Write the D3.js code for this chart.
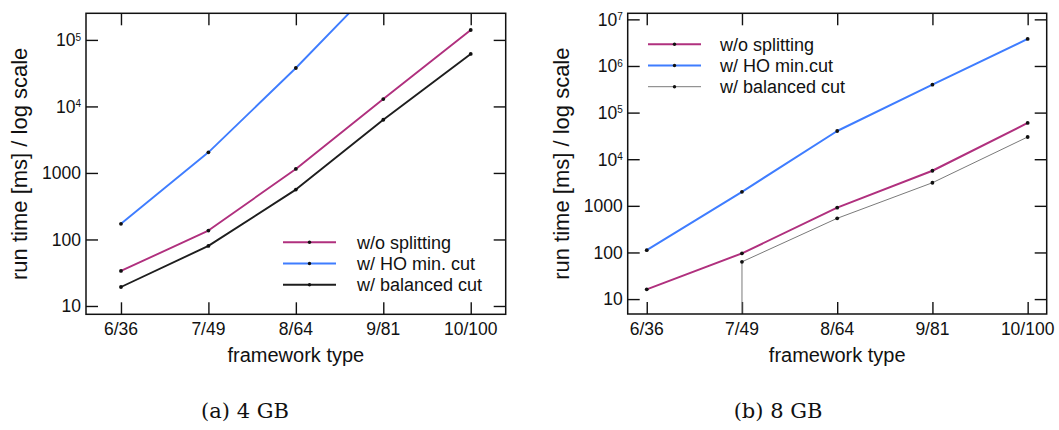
<!DOCTYPE html>
<html>
<head>
<meta charset="utf-8">
<script src="https://cdn.jsdelivr.net/npm/d3@7"></script>
<style>
  body { margin: 0; background: #fff; }
  svg { display: block; }
  text { font-family: "Liberation Sans", Arial, sans-serif; fill: #111; }
  .caption { font-family: "DejaVu Serif", "Liberation Serif", serif; }
</style>
</head>
<body>
<svg id="chart" width="1059" height="430"></svg>
<script>
/* Framework types on the x axis */
var frameworks = ["6/36", "7/49", "8/64", "9/81", "10/100"];

/* (a) 4 GB run times in ms */
var noSplit4 = [33.6, 136, 1148, 12900, 141000];
var hoCut4 = [172, 2040, 37800, 855000, null];
var balCut4 = [19.3, 80, 562, 6300, 61600];

/* (b) 8 GB run times in ms (0 = no run, drawn as a drop) */
var noSplit8 = [16.2, 95.7, 915, 5660, 60000];
var hoCut8 = [112, 2000, 40300, 398000, 3800000];
var balCut8 = [0, 63, 540, 3130, 30000];

/* Tick values and legend labels */
var ticks4 = [10, 100, 1000, 1e4, 1e5];
var ticks8 = [10, 100, 1000, 1e4, 1e5, 1e6, 1e7];
var legend4 = ["w/o splitting", "w/ HO min. cut", "w/ balanced cut"];
var legend8 = ["w/o splitting", "w/ HO min.cut", "w/ balanced cut"];

var svg = d3.select("#chart");

drawPanel({
	id: "a", left: 86, right: 505.7, top: 13.3, bottom: 314.3,
	domain: [Math.pow(10, 0.875), Math.pow(10, 5.4)], pad: 0.4,
	ticks: ticks4,
	series: [
		{ values: noSplit4, color: "#b0307e", width: 1.9 },
		{ values: hoCut4, color: "#3f7dff", width: 1.9 },
		{ values: balCut4, color: "#1e1e1e", width: 1.9 }
	],
	legend: legend4, legX: 283, legY: 242.3, legText: 357,
	caption: "(a) 4 GB", capX: 245
});

drawPanel({
	id: "b", left: 627.7, right: 1046.7, top: 13.3, bottom: 314,
	domain: [Math.pow(10, 0.68), Math.pow(10, 7.13)], pad: 0.2,
	ticks: ticks8,
	series: [
		{ values: noSplit8, color: "#b0307e", width: 2 },
		{ values: hoCut8, color: "#3f7dff", width: 2 },
		{ values: balCut8, color: "#7a7a7a", width: 1 }
	],
	legend: legend8, legX: 648, legY: 44.3, legText: 720,
	caption: "(b) 8 GB", capX: 778
});

/* Draw one sub-figure */
function drawPanel(p) {
	var x = d3.scalePoint().domain(frameworks).range([p.left, p.right]).padding(p.pad);
	var y = d3.scaleLog().domain(p.domain).range([p.bottom, p.top]);
	var g = svg.append("g");

	g.append("clipPath").attr("id", "clip-" + p.id)
		.append("rect")
		.attr("x", p.left).attr("y", p.top)
		.attr("width", p.right - p.left).attr("height", p.bottom - p.top);

	// ticks on all four sides, pointing inwards
	var tl = 12;
	g.append("g").attr("transform", "translate(" + p.left + ",0)")
		.call(d3.axisLeft(y).tickValues(p.ticks).tickSize(-tl).tickFormat(""));
	g.append("g").attr("transform", "translate(" + p.right + ",0)")
		.call(d3.axisRight(y).tickValues(p.ticks).tickSize(-tl).tickFormat(""));
	g.append("g").attr("transform", "translate(0," + p.bottom + ")")
		.call(d3.axisBottom(x).tickSize(-tl).tickFormat(""));
	g.append("g").attr("transform", "translate(0," + p.top + ")")
		.call(d3.axisTop(x).tickSize(-tl).tickFormat(""));
	g.selectAll(".domain").remove();
	g.selectAll(".tick line").attr("stroke", "#111").attr("stroke-width", 1.4);

	// y tick labels, powers of ten above 1000 as superscripts
	p.ticks.forEach(function(v) {
		var t = g.append("text")
			.attr("x", p.left - 5).attr("y", y(v)).attr("dy", "0.36em")
			.attr("text-anchor", "end").style("font-size", "17.5px");
		if (v >= 1e4) {
			t.append("tspan").text("10");
			t.append("tspan").attr("dy", "-0.55em").style("font-size", "10px")
				.text(Math.round(Math.log10(v)));
		} else {
			t.text(v);
		}
	});

	// x tick labels
	g.selectAll(".xl").data(frameworks).enter().append("text")
		.attr("x", function(d) { return x(d); })
		.attr("y", p.bottom + 21)
		.attr("text-anchor", "middle").style("font-size", "17.5px")
		.text(function(d) { return d; });

	// axis titles
	var cx = (p.left + p.right) / 2;
	g.append("text").attr("x", cx).attr("y", p.bottom + 48)
		.attr("text-anchor", "middle").style("font-size", "20px")
		.text("framework type");
	g.append("text")
		.attr("transform", "translate(" + (p.left - 59) + "," + ((p.top + p.bottom) / 2) + ") rotate(-90)")
		.attr("text-anchor", "middle").style("font-size", "22px")
		.text("run time [ms] / log scale");

	// series lines
	var plot = g.append("g").attr("clip-path", "url(#clip-" + p.id + ")");
	var line = d3.line()
		.defined(function(d) { return d != null && d > 0; })
		.x(function(d, i) { return x(frameworks[i]); })
		.y(function(d) { return y(d); });

	p.series.forEach(function(s) {
		plot.append("path").datum(s.values)
			.attr("d", line)
			.attr("fill", "none").attr("stroke", s.color)
			.attr("stroke-width", s.width).attr("stroke-linejoin", "round");

		// a zero value cannot be shown on a log axis: drop to the bottom
		s.values.forEach(function(v, i) {
			if (v === 0 && s.values[i + 1] > 0) {
				plot.append("line")
					.attr("x1", x(frameworks[i + 1])).attr("x2", x(frameworks[i + 1]))
					.attr("y1", p.bottom).attr("y2", y(s.values[i + 1]))
					.attr("stroke", s.color).attr("stroke-width", s.width);
			}
		});

		plot.selectAll(null)
			.data(s.values.map(function(v, i) { return { v: v, f: frameworks[i] }; })
				.filter(function(d) { return d.v != null && d.v > 0; }))
			.enter().append("circle")
			.attr("cx", function(d) { return x(d.f); })
			.attr("cy", function(d) { return y(d.v); })
			.attr("r", 1.9).attr("fill", "#111");
	});

	// legend
	p.legend.forEach(function(label, i) {
		var ly = p.legY + i * 21.2;
		var s = p.series[i];
		g.append("line")
			.attr("x1", p.legX).attr("x2", p.legX + 53)
			.attr("y1", ly).attr("y2", ly)
			.attr("stroke", s.color).attr("stroke-width", s.width);
		g.append("circle").attr("cx", p.legX + 26.5).attr("cy", ly).attr("r", 1.7).attr("fill", "#111");
		g.append("text").attr("x", p.legText).attr("y", ly).attr("dy", "0.36em")
			.style("font-size", "18px").text(label);
	});

	// frame
	g.append("rect")
		.attr("x", p.left).attr("y", p.top)
		.attr("width", p.right - p.left).attr("height", p.bottom - p.top)
		.attr("fill", "none").attr("stroke", "#111").attr("stroke-width", 1.5);

	// caption
	g.append("text").attr("class", "caption")
		.attr("x", p.capX).attr("y", 418)
		.attr("text-anchor", "middle").style("font-size", "21px")
		.text(p.caption);
}
</script>
</body>
</html>
